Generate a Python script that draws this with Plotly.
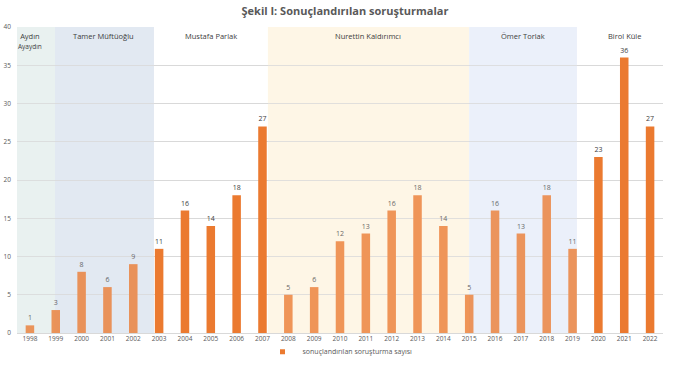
import plotly.graph_objects as go

years = [str(y) for y in range(1998, 2023)]
values = [1, 3, 8, 6, 9, 11, 16, 14, 18, 27, 5, 6, 12, 13, 16, 18, 14, 5, 16, 13, 18, 11, 23, 36, 27]
series_name = "sonuçlandırılan soruşturma sayısı"
title_text = "Şekil I: Sonuçlandırılan soruşturmalar"

# periods: name, start index, end index, fill colour (None = white), label x index
period_names = ["Aydın<br><span style='font-size:6.5px'>Ayaydın</span>", "Tamer Müftüoğlu", "Mustafa Parlak",
                "Nurettin Kaldırımcı", "Ömer Torlak", "Birol Küle"]
period_start = [-0.5, 0.97, 4.8, 9.21, 17.0, 21.17]
period_end = [0.97, 4.8, 9.21, 17.0, 21.17, 24.5]
period_fill = ["#EAF1F0", "#E2E9F3", None, "#FEF6E6", "#EBF0FA", None]
period_label_x = [0.0, 2.85, 7.0, 13.1, 19.1, 23.0]

BAR = "#EB7A30"
fig = go.Figure()
fig.add_trace(go.Bar(
    x=years, y=values, name=series_name,
    marker=dict(color=BAR, line=dict(width=0)),
    width=0.33,
    text=[str(v) for v in values], textposition="outside",
    textfont=dict(size=7, color="#404040", family="Open Sans"),
    cliponaxis=False, showlegend=False,
))
# legend entry with a small square symbol
fig.add_trace(go.Scatter(
    x=[None], y=[None], mode="markers", name=series_name,
    marker=dict(symbol="square", size=5, color=BAR), showlegend=True,
))

shapes = []
annotations = []
for name, s, e, c, lx in zip(period_names, period_start, period_end, period_fill, period_label_x):
    if c:
        shapes.append(dict(type="rect", xref="x", yref="y", x0=s, x1=e, y0=0, y1=40,
                           fillcolor=c, line=dict(width=0), layer="below"))
        shapes.append(dict(type="rect", xref="x", yref="y", x0=s, x1=e, y0=0, y1=40,
                           fillcolor=c, opacity=0.22, line=dict(width=0), layer="above"))
    annotations.append(dict(x=lx, y=40, xref="x", yref="y", text=name, showarrow=False,
                            yanchor="top", yshift=-2,
                            font=dict(size=7.5, color="#404040", family="Open Sans")))

fig.update_layout(
    width=690, height=368,
    margin=dict(l=17, r=27, t=27, b=35, autoexpand=False),
    paper_bgcolor="white", plot_bgcolor="white",
    title=dict(text=f"<b>{title_text}</b>", x=0.5, xanchor="center",
               yref="container", y=0.98, yanchor="top",
               font=dict(size=11, color="#595959", family="Open Sans")),
    shapes=shapes, annotations=annotations,
    xaxis=dict(type="category", range=[-0.5, 24.5], showgrid=False, showline=False,
               automargin=False,
               tickfont=dict(size=6.5, color="#595959", family="Open Sans"), ticks=""),
    yaxis=dict(range=[0, 40], dtick=5, showgrid=True, gridcolor="#D9D9D9", gridwidth=1,
               zeroline=True, zerolinecolor="#D9D9D9", zerolinewidth=1, automargin=False,
               tickfont=dict(size=6.5, color="#595959", family="Open Sans"), ticks="",
               ticklabelstandoff=5),
    legend=dict(orientation="h", x=0.5, xanchor="center", yref="container", y=0.005, yanchor="bottom",
                bgcolor="rgba(0,0,0,0)",
                font=dict(size=7, color="#595959", family="Open Sans"),
                itemwidth=30),
)

fig.write_html("out.html", config={"displayModeBar": False},
               post_script="document.body.style.margin='0';")
